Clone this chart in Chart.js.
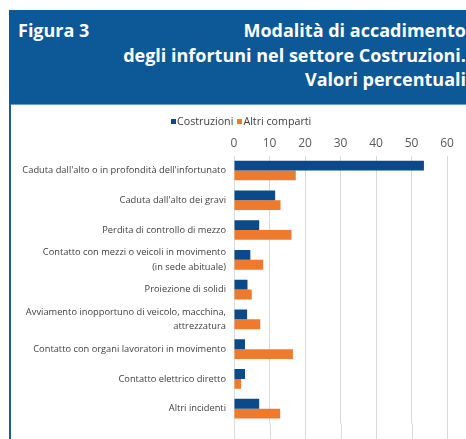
<!DOCTYPE html>
<html>
<head>
<meta charset="utf-8">
<script src="https://cdn.jsdelivr.net/npm/chart.js@4/dist/chart.umd.min.js"></script>
<style>
  html, body { margin: 0; padding: 0; width: 466px; height: 439px; overflow: hidden; background: #ffffff; font-family: "Open Sans", sans-serif; }
  #header { position: absolute; left: 9px; top: 10px; width: 470px; height: 94px; background: #0d5896; color: #ffffff; font-weight: 700; font-size: 18px; }
  #fig { position: absolute; left: 9px; top: 8px; line-height: 24px; }
  #title { position: absolute; right: 13px; top: 8px; text-align: right; line-height: 24.5px; }
  #hline { position: absolute; left: 9px; top: 104px; width: 470px; height: 1px; background: #6f9cc4; }
  #vline { position: absolute; left: 9px; top: 104px; width: 2px; height: 340px; background: #1d5e98; }
  #wrap { position: absolute; left: 12px; top: 105px; width: 454px; height: 334px; }
  #legend { position: absolute; left: 171px; top: 114px; height: 14px; font-size: 10.7px; color: #404040; white-space: nowrap; line-height: 14px; }
  #legend span.sw { display: inline-block; width: 5px; height: 5px; margin-right: 1px; vertical-align: 1px; }
  #legend span.item { margin-right: 4px; }
</style>
</head>
<body>
<div id="header"><div id="fig">Figura 3</div><div id="title">Modalità di accadimento<br>degli infortuni nel settore Costruzioni.<br>Valori percentuali</div></div>
<div id="hline"></div>
<div id="vline"></div>
<div id="wrap"><canvas id="c"></canvas></div>
<div id="legend"></div>
<script>
const categories = [
  "Caduta dall'alto o in profondità dell'infortunato",
  "Caduta dall'alto dei gravi",
  "Perdita di controllo di mezzo",
  ["Contatto con mezzi o veicoli in movimento", "(in sede abituale)"],
  "Proiezione di solidi",
  ["Avviamento inopportuno di veicolo, macchina,", "attrezzatura"],
  "Contatto con organi lavoratori in movimento",
  "Contatto elettrico diretto",
  "Altri incidenti"
];
const seriesNames = ["Costruzioni", "Altri comparti"];
const costruzioni = [53.5, 11.6, 7.1, 4.6, 3.8, 3.7, 3.1, 3.1, 7.1];
const altriComparti = [17.4, 13.1, 16.2, 8.2, 5.0, 7.4, 16.6, 2.0, 13.0];
const xTicks = [0, 10, 20, 30, 40, 50, 60];
const colors = ['#0b4a8a', '#f07a2c'];

const gridExtend = {
  id: 'gridExtend',
  beforeDatasetsDraw(chart) {
    const ctx = chart.ctx, xs = chart.scales.x, a = chart.chartArea;
    ctx.save();
    ctx.strokeStyle = '#d9d9d9';
    ctx.lineWidth = 1;
    xTicks.forEach(v => {
      const px = Math.round(xs.getPixelForValue(v)) + 0.5;
      ctx.beginPath();
      ctx.moveTo(px, a.bottom);
      ctx.lineTo(px, chart.height);
      ctx.stroke();
    });
    ctx.restore();
  }
};

const chart = new Chart(document.getElementById('c'), {
  type: 'bar',
  data: {
    labels: categories,
    datasets: [
      { label: seriesNames[0], data: costruzioni, backgroundColor: colors[0], barPercentage: 1.0, categoryPercentage: 0.66 },
      { label: seriesNames[1], data: altriComparti, backgroundColor: colors[1], barPercentage: 1.0, categoryPercentage: 0.66 }
    ]
  },
  options: {
    indexAxis: 'y',
    responsive: true,
    maintainAspectRatio: false,
    animation: false,
    layout: { padding: { top: 0, right: 19, bottom: 0, left: 0 } },
    plugins: {
      legend: { display: false },
      tooltip: { enabled: false }
    },
    scales: {
      x: {
        position: 'top',
        min: 0, max: 60,
        afterBuildTicks(s) { s.ticks = xTicks.map(v => ({ value: v })); },
        afterFit(s) { s.height = 50.6; },
        ticks: { color: '#595959', font: { family: 'Open Sans', size: 12 }, padding: 5 },
        grid: { color: '#d9d9d9', drawTicks: false },
        border: { display: false }
      },
      y: {
        afterFit(s) { s.width = 222; },
        ticks: { color: '#404040', font: { family: 'Open Sans', size: 9.3, lineHeight: 1.6 }, padding: 8, autoSkip: false },
        grid: { display: false, drawTicks: false },
        border: { display: false }
      }
    }
  },
  plugins: [gridExtend]
});

const lg = document.getElementById('legend');
chart.data.datasets.forEach(ds => {
  const item = document.createElement('span');
  item.className = 'item';
  const sw = document.createElement('span');
  sw.className = 'sw';
  sw.style.background = ds.backgroundColor;
  item.appendChild(sw);
  item.appendChild(document.createTextNode(ds.label));
  lg.appendChild(item);
});
</script>
</body>
</html>
